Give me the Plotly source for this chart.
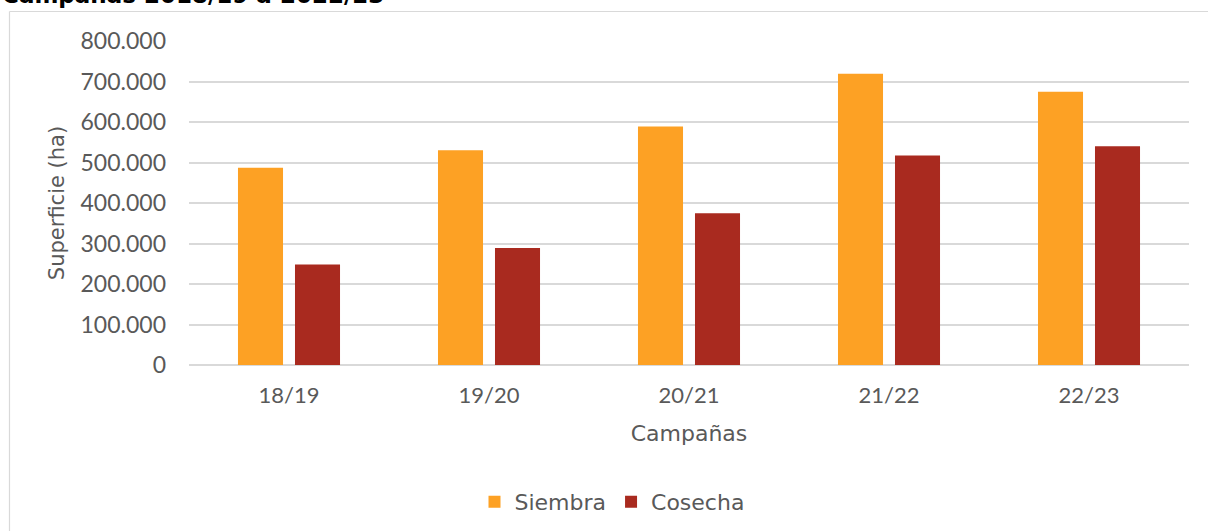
import plotly.graph_objects as go

campanas = ["18/19", "19/20", "20/21", "21/22", "22/23"]
siembra = [487000, 530000, 589000, 719000, 675000]
cosecha = [248000, 289000, 375000, 517000, 540000]

NUMFONT = "Lato"
TXTFONT = "DejaVu Sans"
GRAY = "#595959"

W, H = 1208, 531
L, R, T, B = 189, 19, 41, 166
pw = W - L - R
ph = H - T - B

def px_x(p):
    return (p - L) / pw

def px_y(p):
    return (H - B - p) / ph

fig = go.Figure()
fig.add_trace(go.Bar(name="Siembra", x=campanas, y=siembra,
                     marker=dict(color="#FDA124", line=dict(width=0))))
fig.add_trace(go.Bar(name="Cosecha", x=campanas, y=cosecha,
                     marker=dict(color="#A92A1F", line=dict(width=0))))

fig.update_layout(
    width=W, height=H,
    margin=dict(l=L, r=R, t=T, b=B, autoexpand=False),
    paper_bgcolor="white", plot_bgcolor="white",
    separators=",.",
    barmode="group", bargap=0.43, bargroupgap=0.21,
    font=dict(family=NUMFONT, size=22, color=GRAY),
    showlegend=True,
    legend=dict(orientation="h", x=px_x(612), xanchor="center",
                y=px_y(502), yanchor="middle",
                font=dict(family=TXTFONT, size=22, color=GRAY),
                traceorder="normal"),
    xaxis=dict(showgrid=False, showline=False, ticks="",
               tickfont=dict(family=NUMFONT, size=22, color=GRAY),
               ticklabelstandoff=15,
               title=dict(text="Campañas", standoff=18,
                          font=dict(family=TXTFONT, size=22, color=GRAY))),
    yaxis=dict(range=[0, 800000], tickvals=[0, 100000, 200000, 300000, 400000,
                                            500000, 600000, 700000, 800000],
               tickformat=",d", showgrid=True, gridcolor="#d9d9d9", gridwidth=1.5,
               zeroline=True, zerolinecolor="#d9d9d9", zerolinewidth=1.5,
               showline=False, ticks="",
               ticklabelstandoff=22,
               tickfont=dict(family=NUMFONT, size=23, color=GRAY),
               title=dict(text="Superficie (ha)", standoff=10,
                          font=dict(family=TXTFONT, size=21, color=GRAY))),
    shapes=[
        dict(type="line", xref="paper", yref="paper",
             x0=px_x(9.5), x1=px_x(1260), y0=px_y(11.5), y1=px_y(11.5),
             line=dict(color="#d9d9d9", width=1.2)),
        dict(type="line", xref="paper", yref="paper",
             x0=px_x(9.5), x1=px_x(9.5), y0=px_y(11.5), y1=px_y(560),
             line=dict(color="#d9d9d9", width=1.2)),
    ],
    annotations=[
        dict(text="<b>Campañas 2018/19 a 2022/23</b>", xref="paper", yref="paper",
             x=px_x(0), xanchor="left", y=px_y(10), yanchor="bottom",
             showarrow=False, font=dict(family=TXTFONT, size=23, color="black")),
    ],
)

fig.write_html("out.html", config={"displayModeBar": False},
               post_script="document.body.style.margin='0';document.body.style.overflow='hidden';")
